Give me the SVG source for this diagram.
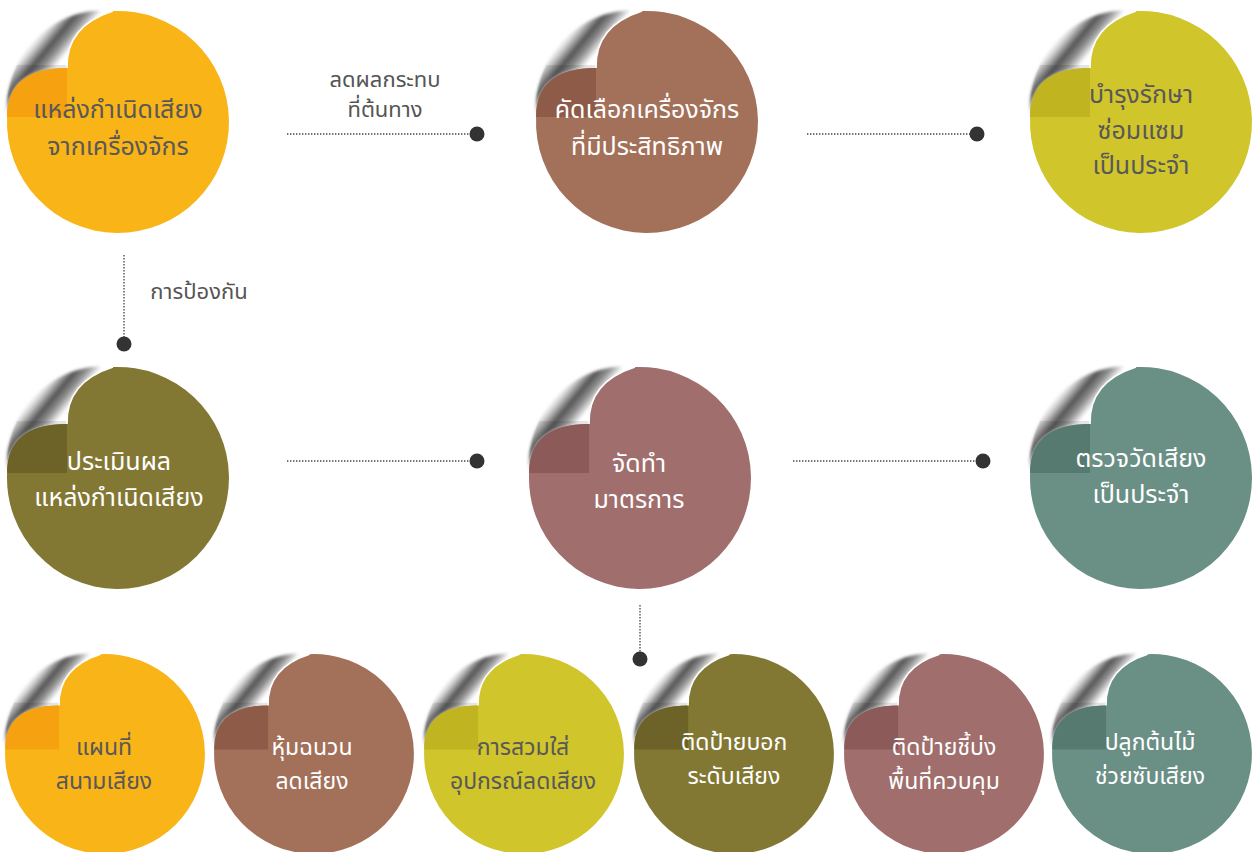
<svg xmlns="http://www.w3.org/2000/svg" xmlns:xlink="http://www.w3.org/1999/xlink" width="1254" height="852" viewBox="0 0 1254 852">
<style>
.t{font-family:"Noto Sans Thai","Noto Sans","DejaVu Sans",sans-serif;font-size:25px;text-anchor:middle}
.s{font-size:23px}
.lbl{font-family:"Noto Sans Thai","Noto Sans","DejaVu Sans",sans-serif;font-size:22px;fill:#555;text-anchor:middle}
.w{fill:#ffffff}
.d{fill:#58585a}
.dot{stroke:#444;stroke-width:1.3;stroke-dasharray:1.4 1.6;fill:none}
.end{fill:#333}
.fold{fill:none;stroke:#fff;stroke-width:1.6}
.curl{fill:url(#cg);filter:url(#soft)}
.csh{fill:#000;opacity:0.1}
</style>
<defs>
<filter id="soft" x="-20%" y="-20%" width="140%" height="140%"><feGaussianBlur stdDeviation="1.6"/></filter>
<linearGradient id="cg" gradientUnits="userSpaceOnUse" x1="-84" y1="-88" x2="-55" y2="-64">
<stop offset="0" stop-color="#ffffff" stop-opacity="0"/>
<stop offset="0.25" stop-color="#cfcfcf"/>
<stop offset="0.52" stop-color="#555555"/>
<stop offset="0.75" stop-color="#919191"/>
<stop offset="0.95" stop-color="#e6e6e6"/>
<stop offset="1" stop-color="#ffffff"/>
</linearGradient>
<path id="body" d="M -5,-110.9 A 111 111 0 1 1 -110.9,-5 Q -111,-54 -51,-54 Q -52,-96 -5,-110.9 Z"/>
<path id="curl" d="M -110.9,-5 C -115,-70 -60,-118 -5,-110.9 Q -52,-96 -51,-54 Q -111,-54 -110.9,-5 Z"/>
<path id="foldp" d="M -51,-54 Q -52,-96 -5,-110.9"/>
<clipPath id="cb" clipPathUnits="userSpaceOnUse"><use xlink:href="#body"/></clipPath>
<clipPath id="cc" clipPathUnits="userSpaceOnUse"><use xlink:href="#curl"/></clipPath>
</defs>

<g id="connectors">
<line class="dot" x1="287" y1="134" x2="477" y2="134"/><circle class="end" cx="477" cy="134" r="7.5"/>
<line class="dot" x1="807" y1="134" x2="977" y2="134"/><circle class="end" cx="977" cy="134" r="7.5"/>
<line class="dot" x1="124" y1="255" x2="124" y2="344"/><circle class="end" cx="124" cy="344" r="7.5"/>
<line class="dot" x1="287" y1="461" x2="477" y2="461"/><circle class="end" cx="477" cy="461" r="7.5"/>
<line class="dot" x1="793" y1="461" x2="983" y2="461"/><circle class="end" cx="983" cy="461" r="7.5"/>
<line class="dot" x1="640" y1="605" x2="640" y2="659"/><circle class="end" cx="640" cy="659" r="7.5"/>
<text class="lbl" x="385" y="87">ลดผลกระทบ</text>
<text class="lbl" x="385" y="117">ที่ต้นทาง</text>
<text class="lbl" x="199" y="299">การป้องกัน</text>
</g>

<g id="n1">
<g transform="translate(118,122)">
<use xlink:href="#curl" class="curl"/><use xlink:href="#body" fill="#f9b418"/>
<rect x="-111" y="-57" width="60" height="52" fill="#f6a10f" clip-path="url(#cb)"/>
<rect x="-111" y="-57" width="60" height="52" class="csh" clip-path="url(#cc)"/>
<use xlink:href="#foldp" class="fold"/>
</g>
<text class="t d" x="118" y="118">แหล่งกำเนิดเสียง</text>
<text class="t d" x="118" y="155">จากเครื่องจักร</text>
</g>

<g id="n2">
<g transform="translate(647,122)">
<use xlink:href="#curl" class="curl"/><use xlink:href="#body" fill="#a3705a"/>
<rect x="-111" y="-57" width="60" height="52" fill="#8e5b48" clip-path="url(#cb)"/>
<rect x="-111" y="-57" width="60" height="52" class="csh" clip-path="url(#cc)"/>
<use xlink:href="#foldp" class="fold"/>
</g>
<text class="t w" x="647" y="118">คัดเลือกเครื่องจักร</text>
<text class="t w" x="647" y="155">ที่มีประสิทธิภาพ</text>
</g>

<g id="n3">
<g transform="translate(1141,122)">
<use xlink:href="#curl" class="curl"/><use xlink:href="#body" fill="#d0c52b"/>
<rect x="-111" y="-57" width="60" height="52" fill="#c0b421" clip-path="url(#cb)"/>
<rect x="-111" y="-57" width="60" height="52" class="csh" clip-path="url(#cc)"/>
<use xlink:href="#foldp" class="fold"/>
</g>
<text class="t d" x="1141" y="103">บำรุงรักษา</text>
<text class="t d" x="1141" y="139">ซ่อมแซม</text>
<text class="t d" x="1141" y="174">เป็นประจำ</text>
</g>

<g id="n4">
<g transform="translate(118,478)">
<use xlink:href="#curl" class="curl"/><use xlink:href="#body" fill="#827834"/>
<rect x="-111" y="-57" width="60" height="52" fill="#6d6328" clip-path="url(#cb)"/>
<rect x="-111" y="-57" width="60" height="52" class="csh" clip-path="url(#cc)"/>
<use xlink:href="#foldp" class="fold"/>
</g>
<text class="t w" x="119" y="470">ประเมินผล</text>
<text class="t w" x="119" y="506">แหล่งกำเนิดเสียง</text>
</g>

<g id="n5">
<g transform="translate(640,478)">
<use xlink:href="#curl" class="curl"/><use xlink:href="#body" fill="#a06e6c"/>
<rect x="-111" y="-57" width="60" height="52" fill="#8c5a59" clip-path="url(#cb)"/>
<rect x="-111" y="-57" width="60" height="52" class="csh" clip-path="url(#cc)"/>
<use xlink:href="#foldp" class="fold"/>
</g>
<text class="t w" x="639" y="472">จัดทำ</text>
<text class="t w" x="639" y="508">มาตรการ</text>
</g>

<g id="n6">
<g transform="translate(1141,478)">
<use xlink:href="#curl" class="curl"/><use xlink:href="#body" fill="#6a9086"/>
<rect x="-111" y="-57" width="60" height="52" fill="#577a70" clip-path="url(#cb)"/>
<rect x="-111" y="-57" width="60" height="52" class="csh" clip-path="url(#cc)"/>
<use xlink:href="#foldp" class="fold"/>
</g>
<text class="t w" x="1141" y="467">ตรวจวัดเสียง</text>
<text class="t w" x="1141" y="503">เป็นประจำ</text>
</g>

<g id="n7">
<g transform="translate(105,754) scale(0.9)">
<use xlink:href="#curl" class="curl"/><use xlink:href="#body" fill="#f9b418"/>
<rect x="-111" y="-57" width="60" height="52" fill="#f6a10f" clip-path="url(#cb)"/>
<rect x="-111" y="-57" width="60" height="52" class="csh" clip-path="url(#cc)"/>
<use xlink:href="#foldp" class="fold"/>
</g>
<text class="t s d" x="104" y="755">แผนที่</text>
<text class="t s d" x="104" y="789">สนามเสียง</text>
</g>

<g id="n8">
<g transform="translate(314,754) scale(0.9)">
<use xlink:href="#curl" class="curl"/><use xlink:href="#body" fill="#a3705a"/>
<rect x="-111" y="-57" width="60" height="52" fill="#8e5b48" clip-path="url(#cb)"/>
<rect x="-111" y="-57" width="60" height="52" class="csh" clip-path="url(#cc)"/>
<use xlink:href="#foldp" class="fold"/>
</g>
<text class="t s w" x="312" y="755">หุ้มฉนวน</text>
<text class="t s w" x="312" y="789">ลดเสียง</text>
</g>

<g id="n9">
<g transform="translate(524,754) scale(0.9)">
<use xlink:href="#curl" class="curl"/><use xlink:href="#body" fill="#d0c52b"/>
<rect x="-111" y="-57" width="60" height="52" fill="#c0b421" clip-path="url(#cb)"/>
<rect x="-111" y="-57" width="60" height="52" class="csh" clip-path="url(#cc)"/>
<use xlink:href="#foldp" class="fold"/>
</g>
<text class="t s d" x="523" y="755">การสวมใส่</text>
<text class="t s d" x="523" y="789">อุปกรณ์ลดเสียง</text>
</g>

<g id="n10">
<g transform="translate(734,754) scale(0.9)">
<use xlink:href="#curl" class="curl"/><use xlink:href="#body" fill="#827834"/>
<rect x="-111" y="-57" width="60" height="52" fill="#6d6328" clip-path="url(#cb)"/>
<rect x="-111" y="-57" width="60" height="52" class="csh" clip-path="url(#cc)"/>
<use xlink:href="#foldp" class="fold"/>
</g>
<text class="t s w" x="734" y="750">ติดป้ายบอก</text>
<text class="t s w" x="734" y="784">ระดับเสียง</text>
</g>

<g id="n11">
<g transform="translate(944,754) scale(0.9)">
<use xlink:href="#curl" class="curl"/><use xlink:href="#body" fill="#a06e6c"/>
<rect x="-111" y="-57" width="60" height="52" fill="#8c5a59" clip-path="url(#cb)"/>
<rect x="-111" y="-57" width="60" height="52" class="csh" clip-path="url(#cc)"/>
<use xlink:href="#foldp" class="fold"/>
</g>
<text class="t s w" x="944" y="755">ติดป้ายชี้บ่ง</text>
<text class="t s w" x="944" y="789">พื้นที่ควบคุม</text>
</g>

<g id="n12">
<g transform="translate(1152,754) scale(0.9)">
<use xlink:href="#curl" class="curl"/><use xlink:href="#body" fill="#6a9086"/>
<rect x="-111" y="-57" width="60" height="52" fill="#577a70" clip-path="url(#cb)"/>
<rect x="-111" y="-57" width="60" height="52" class="csh" clip-path="url(#cc)"/>
<use xlink:href="#foldp" class="fold"/>
</g>
<text class="t s w" x="1150" y="750">ปลูกต้นไม้</text>
<text class="t s w" x="1150" y="784">ช่วยซับเสียง</text>
</g>
</svg>
